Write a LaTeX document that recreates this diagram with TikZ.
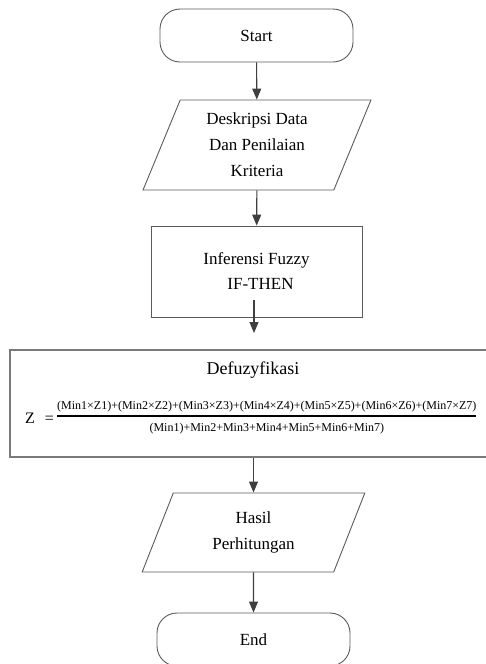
\documentclass[tikz,border=0pt]{standalone}
\usepackage{amsmath}
\usepackage{fontspec}
\setmainfont{Liberation Serif}
\usetikzlibrary{shapes.geometric,arrows.meta}
\definecolor{cLine}{HTML}{3F3F3F}
\definecolor{cEdge}{HTML}{5A5A5A}
\definecolor{cFrame}{HTML}{7A7A7A}
\tikzset{
  term/.style   = {rectangle, rounded corners=20pt, draw=cEdge, line width=0.9pt,
                   minimum width=193pt, minimum height=53pt, inner sep=0pt,
                   align=center, font=\fontsize{17}{26}\selectfont},
  io/.style     = {trapezium, trapezium left angle=69, trapezium right angle=111,
                   trapezium stretches=true, draw=cEdge, line width=0.9pt, inner sep=0pt,
                   align=center, font=\fontsize{17}{26}\selectfont},
  proc/.style   = {rectangle, draw=cEdge, line width=0.9pt, inner sep=0pt,
                   align=center, font=\fontsize{17}{25}\selectfont},
  defbox/.style = {rectangle, draw=cFrame, line width=1.3pt, inner sep=0pt},
  fl/.style     = {-{Triangle[length=11pt, width=9pt]}, draw=cLine, line width=1.1pt},
}

\begin{document}
\begin{tikzpicture}[x=1pt, y=-1pt]
  \useasboundingbox (0,0) rectangle (486,664);
  \clip (0,0) rectangle (486,664);

  \node[term] (start) at (256.5,35.5) {Start};
  \node[io, minimum width=228pt, minimum height=90pt] (desk) at (257,145)
    {Deskripsi Data\\Dan Penilaian\\Kriteria};
  \node[proc, minimum width=211pt, minimum height=91pt] (infer) at (256.5,271.5)
    {Inferensi Fuzzy\\\hspace*{8pt}IF-THEN};

  \node[defbox, minimum width=482pt, minimum height=107pt] (defuz) at (251,403.5) {};
  \node[font=\fontsize{18}{20}\selectfont] (defuzjudul) at (253,370) {Defuzyfikasi};
  \node[anchor=base west, inner sep=0pt, font=\fontsize{12}{14}\selectfont] (rumus) at (25,419)
    {\raisebox{-4pt}{\fontsize{16}{18}\selectfont Z\hspace{10pt}=}\hspace{2pt}%
     $\genfrac{}{}{1.1pt}{0}%
       {\text{(Min1×Z1)+(Min2×Z2)+(Min3×Z3)+(Min4×Z4)+(Min5×Z5)+(Min6×Z6)+(Min7×Z7)}}%
       {\text{\rule{0pt}{12pt}(Min1)+Min2+Min3+Min4+Min5+Min6+Min7)}}$};

  \node[io, minimum width=223pt, minimum height=79pt] (hasil) at (253.5,532.5)
    {Hasil\\Perhitungan};
  \node[term] (selesai) at (253.5,639.5) {End};

  \coordinate (infout) at (254,300);
  \coordinate (infin) at (254,333);

  \draw[fl] (start) -- (desk);
  \draw[fl] (desk) -- (infer);
  \draw[fl] (infout) -- (infin);
  \draw[fl] (hasil.north |- defuz.south) -- (hasil.north);
  \draw[fl] (hasil) -- (selesai);
\end{tikzpicture}
\end{document}
